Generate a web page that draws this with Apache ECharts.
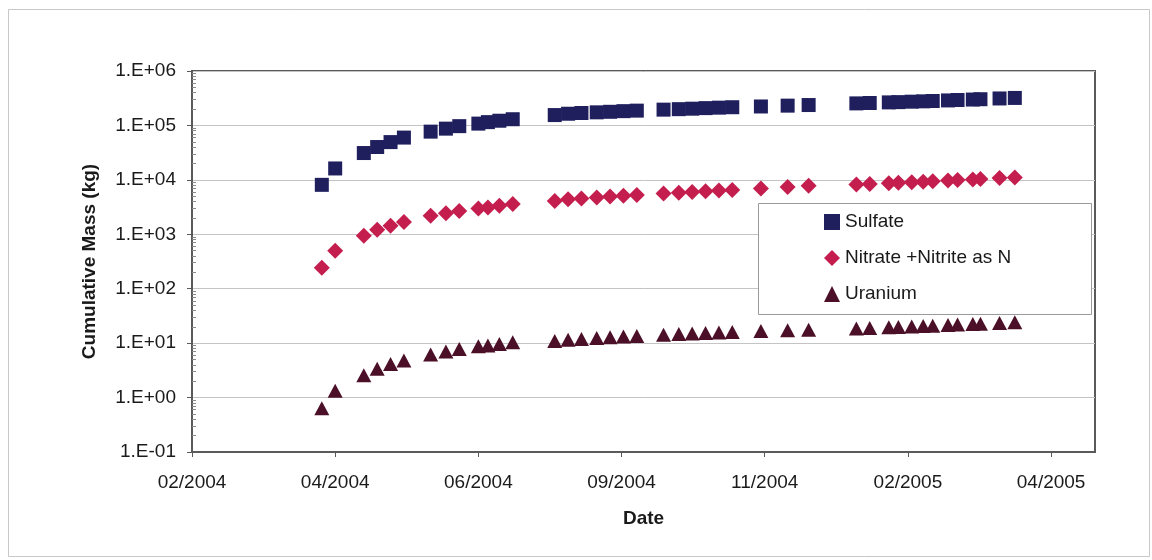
<!DOCTYPE html>
<html>
<head>
<meta charset="utf-8">
<script src="https://cdn.jsdelivr.net/npm/echarts@6/dist/echarts.min.js"></script>
<style>
html,body{margin:0;padding:0;background:#fff;}
#chart{width:1152px;height:560px;}
</style>
</head>
<body>
<div id="chart"></div>
<script>
// ---- data ----
const dates = ['2004-04-09','2004-04-16','2004-05-01','2004-05-08','2004-05-15','2004-05-22',
  '2004-06-05','2004-06-13','2004-06-20','2004-06-30','2004-07-05','2004-07-11','2004-07-18',
  '2004-08-09','2004-08-16','2004-08-23','2004-08-31','2004-09-07','2004-09-14','2004-09-21',
  '2004-10-05','2004-10-13','2004-10-20','2004-10-27','2004-11-03','2004-11-10',
  '2004-11-25','2004-12-09','2004-12-20','2005-01-14','2005-01-21',
  '2005-01-31','2005-02-05','2005-02-12','2005-02-18','2005-02-23',
  '2005-03-03','2005-03-08','2005-03-16','2005-03-20','2005-03-30','2005-04-07'];
const sulfate = [8100,16200,31100,40100,49400,59800,76900,87300,97000,108000,115000,122000,130000,
  155000,164000,169000,174000,178000,183000,187000,195000,199000,203000,208000,212000,216000,
  223000,231000,237000,254000,258000,265000,268000,273000,277000,281000,288000,293000,299000,303000,313000,320000];
const nitrate = [243,499,940,1210,1430,1690,2180,2430,2690,2990,3120,3330,3620,
  4110,4380,4560,4760,4920,5110,5290,5630,5800,6000,6180,6370,6530,
  6960,7410,7800,8240,8410,8700,8850,9080,9230,9430,9750,9950,10200,10400,10800,11100];
const uranium = [0.637,1.33,2.56,3.37,4.16,4.82,6.21,7.04,7.83,8.78,9.07,9.66,10.4,
  11.0,11.5,11.9,12.4,12.8,13.2,13.5,14.3,14.7,15.1,15.4,15.7,16.0,
  16.7,17.2,17.7,18.6,18.9,19.5,19.9,20.2,20.6,20.9,21.5,21.9,22.4,22.8,23.5,24.2];
const seriesNames = ['Sulfate','Nitrate +Nitrite as N','Uranium'];
const axisOrigin = '2004-02-01';   // x axis starts here (days counted from it)
const xMaxDays = 473;
const xStepDays = 75;

// ---- helpers ----
function utc(s){ const p = s.split('-').map(Number); return Date.UTC(p[0], p[1]-1, p[2]); }
const ORIGIN = utc(axisOrigin);
const DAY = 86400000;
function dayNum(s){ return (utc(s) - ORIGIN) / DAY; }
function pair(vals){ return dates.map((d,i)=>[dayNum(d), vals[i]]); }
function fmtDate(v){
  const d = new Date(ORIGIN + v*DAY);
  const m = d.getUTCMonth()+1;
  return (m<10?'0':'')+m+'/'+d.getUTCFullYear();
}
function fmtExp(v){
  const e = Math.round(Math.log10(v));
  return '1.E' + (e<0?'-':'+') + String(Math.abs(e)).padStart(2,'0');
}

const FONT = "'Liberation Sans', Arial, sans-serif";
const chart = echarts.init(document.getElementById('chart'), null, {renderer:'canvas'});
chart.setOption({
  backgroundColor:'#ffffff',
  animation:false,
  textStyle:{fontFamily:FONT},
  graphic:[
    {type:'rect', shape:{x:8.5,y:9.5,width:1141,height:547}, style:{fill:'none',stroke:'#c8c8c8',lineWidth:1}, z:0, silent:true},
    {type:'rect', shape:{x:758.5,y:203.5,width:333,height:111}, style:{fill:'#ffffff',stroke:'#9a9a9a',lineWidth:1}, z:5, silent:true}
  ],
  grid:{left:192, top:71, right:57, bottom:108, show:true, borderColor:'#5a5a5a', borderWidth:2, backgroundColor:'transparent'},
  legend:{
    data:seriesNames,
    orient:'vertical',
    left:824, top:212,
    itemWidth:16, itemHeight:16, itemGap:16,
    padding:0,
    z:10,
    textStyle:{fontFamily:FONT, fontSize:19, color:'#1a1a1a', lineHeight:20}
  },
  xAxis:{
    type:'value',
    min:0, max:xMaxDays, interval:xStepDays,
    name:'Date', nameLocation:'middle', nameGap:57,
    nameTextStyle:{fontFamily:FONT, fontSize:19, fontWeight:'bold', color:'#1a1a1a'},
    axisLine:{show:true, lineStyle:{color:'#5a5a5a', width:2}},
    axisTick:{show:true, length:5, lineStyle:{color:'#5a5a5a'}},
    axisLabel:{formatter:fmtDate, fontFamily:FONT, fontSize:19, color:'#1a1a1a', margin:21, showMaxLabel:false},
    splitLine:{show:false}
  },
  yAxis:[{
    type:'log', logBase:10, min:0.1, max:1000000, splitNumber:7,
    name:'Cumulative Mass (kg)', nameLocation:'middle', nameGap:93,
    nameTextStyle:{fontFamily:FONT, fontSize:19, fontWeight:'bold', color:'#1a1a1a'},
    axisLine:{show:true, lineStyle:{color:'#5a5a5a', width:2}},
    axisTick:{show:true, length:5, lineStyle:{color:'#5a5a5a'}},
    minorTick:{show:false},
    axisLabel:{formatter:fmtExp, fontFamily:FONT, fontSize:19, color:'#1a1a1a', margin:16},
    splitLine:{show:true, lineStyle:{color:'#c4c4c4', width:1}}
  },{
    type:'log', logBase:10, min:0.1, max:1000000, splitNumber:7,
    position:'left', offset:0,
    axisLine:{show:false},
    axisTick:{show:false, inside:true},
    minorTick:{show:true, splitNumber:9, length:4, lineStyle:{color:'#8a8a8a'}},
    axisLabel:{show:false},
    splitLine:{show:false}
  }],
  series:[
    {name:seriesNames[0], type:'scatter', symbol:'rect', symbolSize:14, data:pair(sulfate),
     itemStyle:{color:'#1f1f5e', opacity:1}},
    {name:seriesNames[1], type:'scatter', symbol:'diamond', symbolSize:16, data:pair(nitrate),
     itemStyle:{color:'#c41e4f', opacity:1}},
    {name:seriesNames[2], type:'scatter', symbol:'triangle', symbolSize:[15,14], data:pair(uranium),
     itemStyle:{color:'#4b0f27', opacity:1}}
  ]
});
</script>
</body>
</html>
